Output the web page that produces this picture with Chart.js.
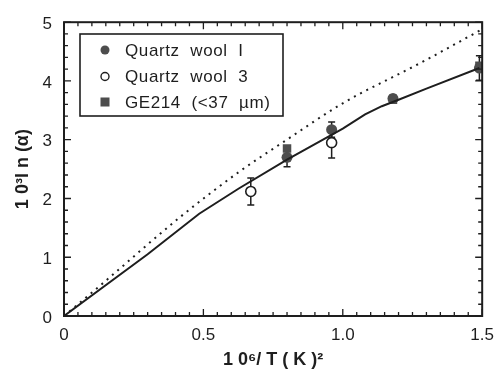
<!DOCTYPE html>
<html>
<head>
  <meta charset="UTF-8">
  <title>ln(alpha) vs 1/T^2</title>
  <script src="https://cdn.jsdelivr.net/npm/chart.js"></script>
  <style>
    body {
      margin: 0;
      background: #fff;
    }
    canvas {
      display: block;
    }
  </style>
</head>
<body>
  <canvas id="chart" width="503" height="374"></canvas>

  <script>
    // Solid curve (fit)
    const solidX = [0, 0.3, 0.485, 0.627, 0.80, 1.00, 1.08, 1.14, 1.20, 1.30, 1.49];
    const solidY = [0, 1.05, 1.74, 2.17, 2.66, 3.19, 3.43, 3.57, 3.68, 3.87, 4.22];

    // Dotted curve
    const dotX = [0, 0.14, 0.413, 0.627, 0.793, 1.00, 1.28, 1.50];
    const dotY = [0, 0.56, 1.67, 2.45, 2.98, 3.62, 4.31, 4.88];

    // Quartz wool I (filled circles)
    const qw1X = [0.80, 0.96, 1.18, 1.49];
    const qw1Y = [2.70, 3.17, 3.70, 4.22];
    const qw1Err = [0.16, 0.13, 0.06, 0.21];

    // Quartz wool 3 (open circles)
    const qw3X = [0.67, 0.96];
    const qw3Y = [2.12, 2.95];
    const qw3Err = [0.23, 0.26];

    // GE214 (<37 um) (filled squares)
    const geX = [0.80, 1.18, 1.49];
    const geY = [2.85, 3.68, 4.26];

    const xTicks = [0, 0.5, 1, 1.5];
    const yTicks = [0, 1, 2, 3, 4, 5];

    const legendNames = ["Quartz  wool  I", "Quartz  wool  3", "GE214  (<37  \u00b5m)"];

    const ink = "#1e1e1e";
    const markGray = "#4d4d4d";
    const fontFam = "'Liberation Sans', Arial, Helvetica, sans-serif";

    const toPts = (xs, ys) => xs.map((x, i) => ({ x: x, y: ys[i] }));

    // Error bars, drawn under the markers
    const errorBars = {
      id: "errorBars",
      beforeDatasetsDraw(chart) {
        const ctx = chart.ctx;
        const xs = chart.scales.x, ys = chart.scales.y;
        ctx.save();
        ctx.strokeStyle = ink;
        ctx.lineWidth = 1.5;
        const draw = (X, Y, E) => {
          X.forEach((x, i) => {
            const px = xs.getPixelForValue(x);
            const top = ys.getPixelForValue(Y[i] + E[i]);
            const bot = ys.getPixelForValue(Y[i] - E[i]);
            ctx.beginPath();
            ctx.moveTo(px, top); ctx.lineTo(px, bot);
            ctx.moveTo(px - 3.5, top); ctx.lineTo(px + 3.5, top);
            ctx.moveTo(px - 3.5, bot); ctx.lineTo(px + 3.5, bot);
            ctx.stroke();
          });
        };
        draw(qw1X, qw1Y, qw1Err);
        draw(qw3X, qw3Y, qw3Err);
        ctx.restore();
      }
    };

    // Frame with inward ticks on all four sides, plus boxed legend
    const frame = {
      id: "frame",
      afterDraw(chart) {
        const ctx = chart.ctx;
        const a = chart.chartArea;
        const xs = chart.scales.x, ys = chart.scales.y;
        ctx.save();
        ctx.strokeStyle = ink;
        ctx.lineWidth = 2;
        ctx.strokeRect(a.left, a.top, a.right - a.left, a.bottom - a.top);

        ctx.lineWidth = 1.3;
        ctx.beginPath();
        for (let i = 0; i <= 30; i++) {
          const px = xs.getPixelForValue(i * 0.05);
          const len = i % 10 === 0 ? 7 : 4;
          ctx.moveTo(px, a.bottom); ctx.lineTo(px, a.bottom - len);
          ctx.moveTo(px, a.top); ctx.lineTo(px, a.top + len);
        }
        for (let i = 0; i <= 25; i++) {
          const py = ys.getPixelForValue(i * 0.2);
          const len = i % 5 === 0 ? 7 : 4;
          ctx.moveTo(a.left, py); ctx.lineTo(a.left + len, py);
          ctx.moveTo(a.right, py); ctx.lineTo(a.right - len, py);
        }
        ctx.stroke();

        // legend
        const lx = 80, ly = 34, lw = 203, lh = 82;
        ctx.fillStyle = "#fff";
        ctx.fillRect(lx, ly, lw, lh);
        ctx.lineWidth = 1.6;
        ctx.strokeRect(lx, ly, lw, lh);

        const rows = [50, 76.5, 102];
        const mx = 105;
        ctx.fillStyle = markGray;
        ctx.beginPath(); ctx.arc(mx, rows[0], 4.5, 0, Math.PI * 2); ctx.fill();
        ctx.lineWidth = 1.4;
        ctx.strokeStyle = ink;
        ctx.beginPath(); ctx.arc(mx, rows[1], 4, 0, Math.PI * 2); ctx.stroke();
        ctx.fillRect(mx - 4.5, rows[2] - 4.5, 9, 9);

        ctx.fillStyle = ink;
        ctx.font = "17px " + fontFam;
        ctx.textBaseline = "middle";
        ctx.textAlign = "left";
        ctx.letterSpacing = "0.6px";
        legendNames.forEach((t, i) => ctx.fillText(t, 125, rows[i] + 1));
        ctx.restore();
      }
    };

    new Chart(document.getElementById("chart").getContext("2d"), {
      type: "scatter",
      data: {
        datasets: [
          {
            data: toPts(dotX, dotY),
            showLine: true,
            pointRadius: 0,
            borderColor: ink,
            borderWidth: 2,
            borderDash: [2, 5],
            cubicInterpolationMode: "monotone"
          },
          {
            data: toPts(solidX, solidY),
            showLine: true,
            pointRadius: 0,
            borderColor: ink,
            borderWidth: 2,
            tension: 0
          },
          {
            data: toPts(qw3X, qw3Y),
            pointStyle: "circle",
            pointRadius: 5,
            backgroundColor: "#fff",
            borderColor: ink,
            borderWidth: 1.6
          },
          {
            data: toPts(geX, geY),
            pointStyle: "rect",
            pointRadius: 6,
            backgroundColor: markGray,
            borderColor: markGray,
            borderWidth: 0
          },
          {
            data: toPts(qw1X, qw1Y),
            pointStyle: "circle",
            pointRadius: 5.5,
            backgroundColor: markGray,
            borderColor: markGray,
            borderWidth: 0
          }
        ]
      },
      options: {
        responsive: false,
        animation: false,
        layout: { padding: { left: 0, right: 18, top: 17, bottom: 0 } },
        plugins: {
          legend: { display: false },
          tooltip: { enabled: false }
        },
        scales: {
          x: {
            type: "linear",
            min: 0,
            max: 1.5,
            afterBuildTicks: (s) => { s.ticks = xTicks.map(v => ({ value: v })); },
            afterFit: (s) => { s.height = 58; },
            grid: { display: false, drawTicks: false },
            border: { display: false },
            ticks: {
              padding: 9,
              color: ink,
              font: { family: fontFam, size: 17 },
              maxRotation: 0
            },
            title: {
              display: true,
              text: "1 0\u2076/ T ( K )\u00b2",
              color: ink,
              font: { family: fontFam, size: 18, weight: "bold" },
              padding: { top: 0, bottom: 3 }
            }
          },
          y: {
            type: "linear",
            min: 0,
            max: 5,
            afterBuildTicks: (s) => { s.ticks = yTicks.map(v => ({ value: v })); },
            afterFit: (s) => { s.width = 64; },
            grid: { display: false, drawTicks: false },
            border: { display: false },
            ticks: {
              padding: 12,
              color: ink,
              font: { family: fontFam, size: 17 },
              labelOffset: 2
            },
            title: {
              display: true,
              text: "1 0\u00b3l n (\u03b1)",
              color: ink,
              font: { family: fontFam, size: 18, weight: "bold" },
              padding: { top: 12, bottom: 0 }
            }
          }
        }
      },
      plugins: [errorBars, frame]
    });
  </script>
</body>
</html>
